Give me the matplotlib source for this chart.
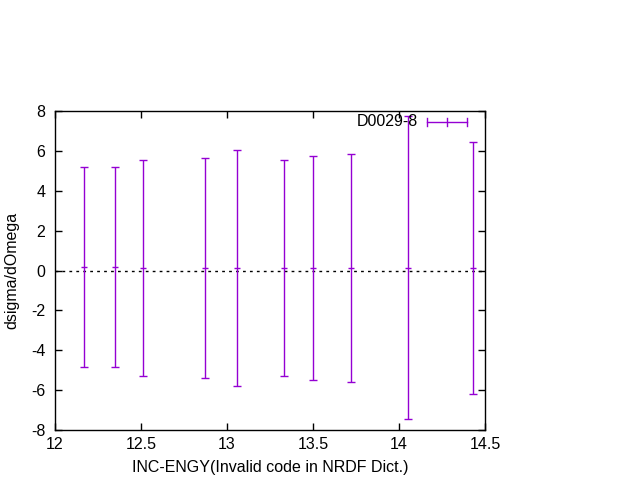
import matplotlib
matplotlib.use("Agg")
import matplotlib.pyplot as plt

plt.rcParams['font.family'] = ['Liberation Sans', 'DejaVu Sans']
plt.rcParams['axes.unicode_minus'] = False

energy = [12.17, 12.35, 12.51, 12.87, 13.06, 13.33, 13.50, 13.72, 14.05, 14.43]
dsigma = [0.18, 0.18, 0.13, 0.13, 0.13, 0.13, 0.13, 0.13, 0.13, 0.13]
error = [5.0, 5.0, 5.4, 5.5, 5.9, 5.4, 5.6, 5.7, 7.6, 6.3]
label = "D0029-8"
color = "#9400D3"
fs = 11.5

fig = plt.figure(figsize=(6.4, 4.8), dpi=100)
ax = fig.add_axes([55/640, 1-430/480, 430/640, 319/480])

ax.axhline(0, color='black', linestyle=(0, (2, 3)), linewidth=1.0, zorder=1)
ax.errorbar(energy, dsigma, yerr=error, fmt='none', ecolor=color,
            elinewidth=1.0, capsize=3, capthick=1.0, zorder=3)
ax.errorbar(energy, dsigma, xerr=0.018, fmt='none', ecolor=color,
            elinewidth=1.0, capsize=0, zorder=3)

ax.set_xlim(12, 14.5)
ax.set_ylim(-8, 8)
ax.set_xticks([12, 12.5, 13, 13.5, 14, 14.5])
ax.set_xticklabels(['12', '12.5', '13', '13.5', '14', '14.5'])
ax.set_yticks(range(-8, 9, 2))
ax.tick_params(direction='in', top=True, right=True, length=5, labelsize=fs, width=1)
ax.tick_params(axis='y', pad=7)
ax.tick_params(axis='x', pad=5)
for s in ax.spines.values():
    s.set_linewidth(1.0)

ax.set_xlabel("INC-ENGY(Invalid code in NRDF Dict.)", fontsize=fs, labelpad=6)
ax.set_ylabel("dsigma/dOmega", fontsize=fs, labelpad=8)

tr = ax.transAxes
ky = (480 - 122) / 480
ky = (ky - (1 - 430/480)) / (319/480)
x0 = (427 - 55) / 430
x1 = (467 - 55) / 430
xm = (x0 + x1) / 2
ax.text((418 - 55) / 430, ky, label, transform=tr, ha='right', va='center', fontsize=fs)
ax.plot([x0, x1], [ky, ky], transform=tr, color=color, lw=1.0, clip_on=False)
for xx in (x0, xm, x1):
    ax.plot([xx, xx], [ky - 0.011, ky + 0.011], transform=tr, color=color, lw=1.0, clip_on=False)

fig.savefig("out.png", dpi=100)
